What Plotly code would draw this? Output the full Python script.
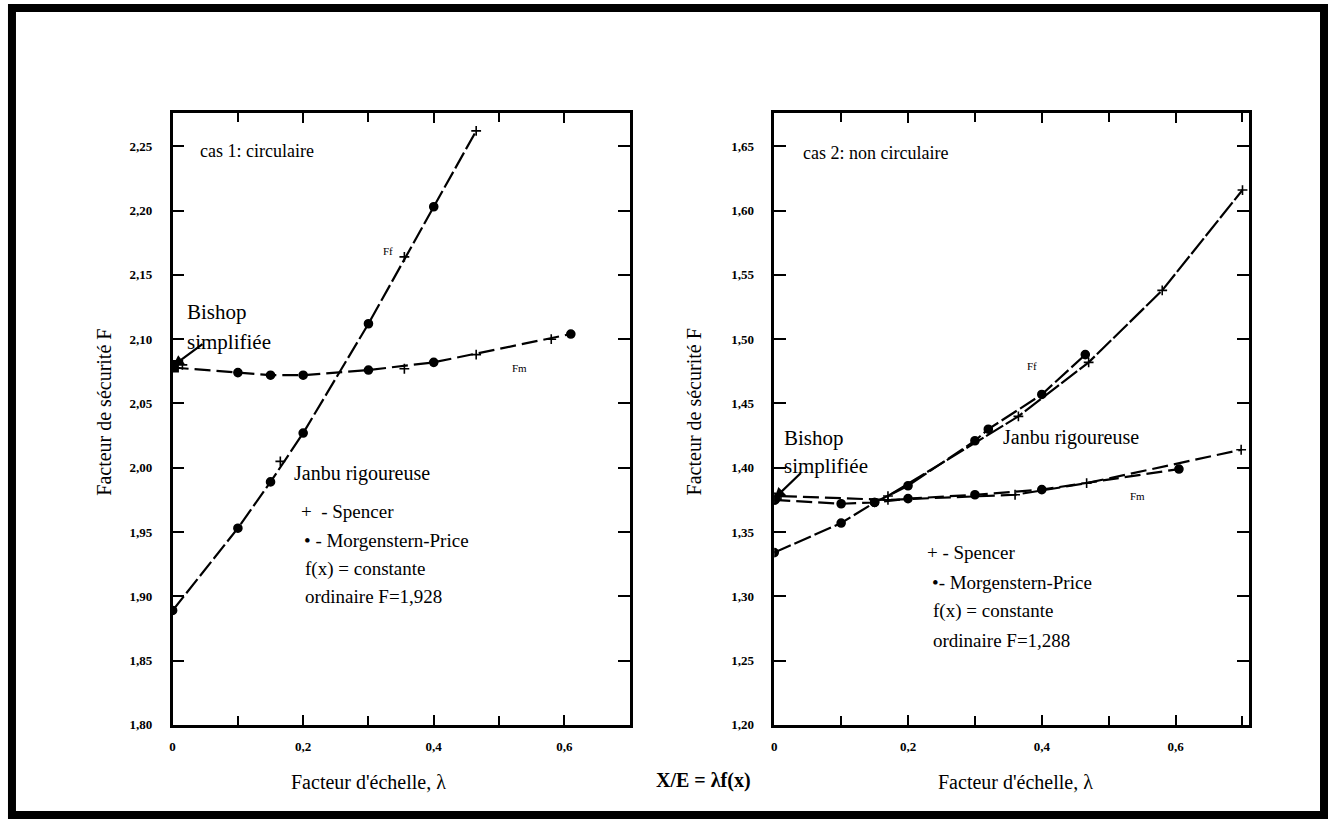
import plotly.graph_objects as go

W, H = 1328, 826

# ---------------- data : cas 1 (circulaire) ----------------
c1_ff_mp_x = [0.0, 0.1, 0.15, 0.2, 0.3, 0.4]
c1_ff_mp_y = [1.889, 1.953, 1.989, 2.027, 2.112, 2.203]
c1_ff_sp_x = [0.165, 0.355, 0.465]
c1_ff_sp_y = [2.005, 2.164, 2.262]
c1_fm_mp_x = [0.0, 0.1, 0.15, 0.2, 0.3, 0.4, 0.61]
c1_fm_mp_y = [2.078, 2.074, 2.072, 2.072, 2.076, 2.082, 2.104]
c1_fm_sp_x = [0.015, 0.355, 0.465, 0.58]
c1_fm_sp_y = [2.080, 2.077, 2.088, 2.100]
c1_bishop = (0.0, 2.079)

# ---------------- data : cas 2 (non circulaire) ----------------
c2_ff_mp_x = [0.0, 0.1, 0.15, 0.2, 0.3, 0.32, 0.4, 0.465]
c2_ff_mp_y = [1.334, 1.357, 1.373, 1.386, 1.421, 1.430, 1.457, 1.488]
c2_ff_sp_x = [0.17, 0.365, 0.47, 0.58, 0.7]
c2_ff_sp_y = [1.378, 1.440, 1.482, 1.538, 1.616]
c2_fm_mp_x = [0.0, 0.1, 0.15, 0.2, 0.3, 0.4, 0.605]
c2_fm_mp_y = [1.375, 1.372, 1.373, 1.376, 1.379, 1.383, 1.399]
c2_fm_sp_x = [0.01, 0.17, 0.36, 0.467, 0.698]
c2_fm_sp_y = [1.378, 1.375, 1.379, 1.388, 1.414]
c2_bishop = (0.0, 1.376)

# ---------------- ticks ----------------
x_tickvals = [0, 0.2, 0.4, 0.6]
x_ticktext = ["0", "0,2", "0,4", "0,6"]
y1_tickvals = [1.80, 1.85, 1.90, 1.95, 2.00, 2.05, 2.10, 2.15, 2.20, 2.25]
y1_ticktext = ["1,80", "1,85", "1,90", "1,95", "2,00", "2,05", "2,10", "2,15", "2,20", "2,25"]
y2_tickvals = [1.20, 1.25, 1.30, 1.35, 1.40, 1.45, 1.50, 1.55, 1.60, 1.65]
y2_ticktext = ["1,20", "1,25", "1,30", "1,35", "1,40", "1,45", "1,50", "1,55", "1,60", "1,65"]

SERIF = "Liberation Serif, Times New Roman, serif"


def px(x):
    return x / W


def py(y):
    return 1 - y / H


fig = go.Figure()

LINE_W = 2.2


def add_series(xs, ys, xa, ya, sym, size, dash, mode="lines+markers"):
    fig.add_trace(go.Scatter(
        x=xs, y=ys, xaxis=xa, yaxis=ya, mode=mode,
        line=dict(color="black", width=LINE_W, dash=dash),
        marker=dict(symbol=sym, size=size, color="black",
                    line=dict(color="black", width=1.6)),
        showlegend=False, hoverinfo="skip"))


# cas 1
add_series(c1_ff_mp_x, c1_ff_mp_y, "x", "y", "circle", 8, "18px,4px")
add_series([c1_ff_mp_x[-1]] + c1_ff_sp_x[-1:], [c1_ff_mp_y[-1]] + c1_ff_sp_y[-1:], "x", "y", "cross-thin", 7, "18px,4px", mode="lines")
add_series(c1_ff_sp_x, c1_ff_sp_y, "x", "y", "cross-thin", 7, "solid", mode="markers")
add_series(c1_fm_mp_x, c1_fm_mp_y, "x", "y", "circle", 8, "16px,6px")
add_series(c1_fm_sp_x, c1_fm_sp_y, "x", "y", "cross-thin", 7, "solid", mode="markers")
add_series([c1_bishop[0]], [c1_bishop[1]], "x", "y", "square", 11, "solid", mode="markers")

# cas 2
add_series(c2_ff_mp_x, c2_ff_mp_y, "x2", "y2", "circle", 8, "18px,4px")
add_series(c2_ff_sp_x, c2_ff_sp_y, "x2", "y2", "cross-thin", 7, "20px,3px")
add_series(c2_fm_mp_x, c2_fm_mp_y, "x2", "y2", "circle", 8, "16px,6px")
add_series(c2_fm_sp_x, c2_fm_sp_y, "x2", "y2", "cross-thin", 7, "16px,6px")
add_series([c2_bishop[0]], [c2_bishop[1]], "x2", "y2", "circle", 11, "solid", mode="markers")

tickfont = dict(family=SERIF, size=13, color="black", weight="bold")


def xaxis_cfg(domain, rng):
    return dict(domain=domain, range=rng, tickvals=x_tickvals, ticktext=x_ticktext,
                ticks="inside", ticklen=10, tickwidth=2, tickcolor="black",
                showline=True, linecolor="black", linewidth=2.5, mirror="ticks",
                showgrid=False, zeroline=False, tickfont=tickfont,
                ticklabelstandoff=8,
                minor=dict(dtick=0.1, tick0=0, ticks="inside", ticklen=9,
                           tickwidth=2, tickcolor="black", showgrid=False))


def yaxis_cfg(domain, rng, tv, tt, anchor):
    return dict(domain=domain, range=rng, tickvals=tv, ticktext=tt, anchor=anchor,
                ticks="inside", ticklen=12, tickwidth=2, tickcolor="black",
                showline=True, linecolor="black", linewidth=2.5, mirror="ticks",
                showgrid=False, zeroline=False, tickfont=tickfont,
                ticklabelstandoff=15)


ydom = [py(732), py(114)]
fig.update_layout(
    width=W, height=H, margin=dict(l=0, r=0, t=0, b=0),
    paper_bgcolor="white", plot_bgcolor="white",
    xaxis=xaxis_cfg([px(170), px(628)], [0, 0.70]),
    yaxis=yaxis_cfg(ydom, [1.80, 2.276], y1_tickvals, y1_ticktext, "x"),
    xaxis2=dict(xaxis_cfg([px(773), px(1249)], [0, 0.71]), anchor="y2"),
    yaxis2=yaxis_cfg(ydom, [1.20, 1.676], y2_tickvals, y2_ticktext, "x2"),
)
fig.layout.xaxis.anchor = "y"

# outer frame
fig.add_shape(type="rect", xref="paper", yref="paper",
              x0=px(9), x1=px(1324), y0=py(823), y1=py(8),
              line=dict(color="black", width=8), fillcolor="rgba(0,0,0,0)")


def text(x, y, s, size=20, anchor="left", angle=0, bold=False):
    fig.add_annotation(x=px(x), y=py(y), xref="paper", yref="paper", text=s,
                       showarrow=False, xanchor=anchor, yanchor="middle",
                       textangle=angle,
                       font=dict(family=SERIF, size=size, color="black",
                                 weight="bold" if bold else "normal"))


# cas 1 texts
text(195, 152, "cas 1: circulaire", 18)
text(182, 315, "Bishop", 21)
text(182, 345, "simplifiée", 21)
text(290, 478, "Janbu rigoureuse", 20)
text(297, 516, "+  - Spencer", 19)
text(300, 546, "• - Morgenstern-Price", 19)
text(301, 575, "f(x) = constante", 19)
text(301, 602, "ordinaire F=1,928", 19)
text(379, 253, "Ff", 11)
text(508, 372, "Fm", 11)

# cas 2 texts
text(800, 155, "cas 2: non circulaire", 18)
text(781, 442, "Bishop", 21)
text(781, 471, "simplifiée", 21)
text(1000, 442, "Janbu rigoureuse", 20)
text(924, 558, "+ - Spencer", 19)
text(929, 588, "•- Morgenstern-Price", 19)
text(930, 617, "f(x) = constante", 19)
text(930, 647, "ordinaire F=1,288", 19)
text(1024, 370, "Ff", 11)
text(1128, 501, "Fm", 11)

# Bishop arrows
fig.add_annotation(x=c1_bishop[0], y=c1_bishop[1], xref="x", yref="y",
                   ax=0.048, ay=2.097, axref="x", ayref="y", text="",
                   showarrow=True, arrowhead=2, arrowsize=1, arrowwidth=2.2,
                   arrowcolor="black")
fig.add_annotation(x=c2_bishop[0], y=c2_bishop[1], xref="x2", yref="y2",
                   ax=0.042, ay=1.397, axref="x2", ayref="y2", text="",
                   showarrow=True, arrowhead=2, arrowsize=1, arrowwidth=2.2,
                   arrowcolor="black")

# axis titles
text(366, 790, "Facteur d'échelle, λ", 20, anchor="center")
text(1015, 790, "Facteur d'échelle, λ", 20, anchor="center")
text(702, 788, "X/E = λf(x)", 20, anchor="center", bold=True)
text(101, 416, "Facteur de sécurité F", 20, anchor="center", angle=-90)
text(693, 416, "Facteur de sécurité F", 20, anchor="center", angle=-90)

fig.write_html("out.html")
